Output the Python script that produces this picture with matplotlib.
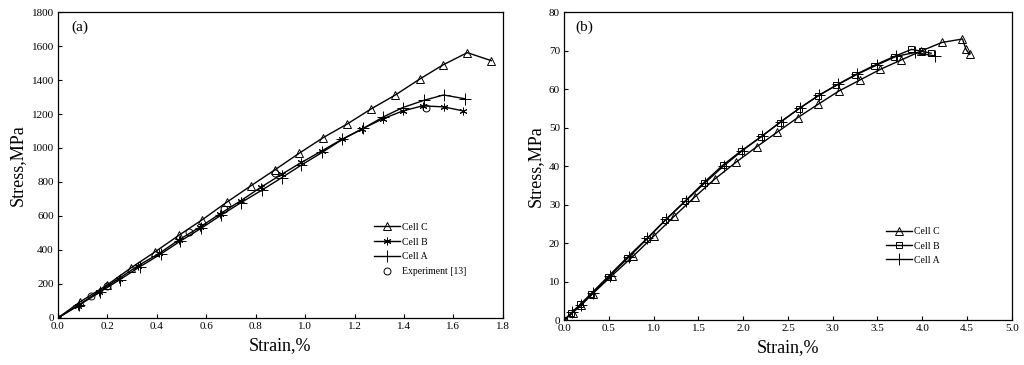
import numpy as np
from matplotlib import pyplot as plt

# panel (a) data
a_c_x = [0, 0.09, 0.2, 0.295, 0.392, 0.489, 0.584, 0.682, 0.78, 0.877, 0.976, 1.073, 1.171, 1.267, 1.365, 1.464, 1.559, 1.656, 1.753]
a_c_y = [0, 95, 195, 294, 388, 486, 578, 680, 777, 871, 969, 1061, 1142, 1230, 1312, 1406, 1490, 1561, 1514]
a_b_x = [0, 0.08, 0.165, 0.245, 0.325, 0.41, 0.49, 0.575, 0.655, 0.74, 0.82, 0.905, 0.985, 1.07, 1.15, 1.23, 1.315, 1.395, 1.475, 1.56, 1.64]
a_b_y = [0, 72, 155, 230, 308, 380, 460, 535, 612, 690, 768, 845, 915, 985, 1052, 1112, 1172, 1218, 1248, 1242, 1218]
a_a_x = [0, 0.085, 0.17, 0.25, 0.33, 0.415, 0.495, 0.58, 0.66, 0.74, 0.825, 0.905, 0.985, 1.07, 1.15, 1.235, 1.315, 1.395, 1.48, 1.56, 1.645]
a_a_y = [0, 75, 152, 225, 300, 375, 452, 528, 605, 678, 752, 825, 900, 975, 1050, 1115, 1182, 1238, 1280, 1312, 1290]
exp_x = [0.135, 0.2, 0.53, 0.67, 0.88, 1.49]
exp_y = [127, 190, 505, 640, 850, 1234]

# panel (b) data
b_c_x = [0, 0.093, 0.19, 0.32, 0.53, 0.77, 1.0, 1.23, 1.46, 1.68, 1.92, 2.15, 2.38, 2.61, 2.84, 3.07, 3.30, 3.53, 3.76, 3.99, 4.22, 4.45, 4.49, 4.53]
b_c_y = [0, 1.9, 3.9, 6.9, 11.5, 16.6, 21.8, 27.0, 32.0, 36.6, 41.0, 45.0, 48.8, 52.6, 56.1, 59.5, 62.3, 65.1, 67.5, 69.9, 72.1, 73.0, 70.3, 69.0]
b_b_x = [0, 0.08, 0.18, 0.3, 0.49, 0.7, 0.92, 1.13, 1.35, 1.56, 1.77, 1.98, 2.2, 2.41, 2.62, 2.83, 3.04, 3.25, 3.46, 3.68, 3.88, 4.0, 4.1]
b_b_y = [0, 1.9, 4.1, 6.9, 11.3, 16.2, 21.1, 26.0, 30.9, 35.7, 40.2, 44.0, 47.6, 51.3, 54.9, 58.1, 61.0, 63.7, 66.1, 68.4, 70.3, 69.8, 69.3]
b_a_x = [0, 0.09, 0.19, 0.32, 0.51, 0.72, 0.93, 1.14, 1.36, 1.57, 1.78, 1.99, 2.21, 2.42, 2.63, 2.85, 3.06, 3.27, 3.49, 3.71, 3.92, 4.14]
b_a_y = [0, 2.0, 4.0, 7.0, 11.5, 16.3, 21.2, 26.2, 31.0, 35.6, 40.0, 44.0, 47.8, 51.5, 55.0, 58.5, 61.2, 63.8, 66.2, 68.5, 69.5, 68.6]

plt.rcParams.update({'font.family': 'serif', 'font.serif': ['Liberation Serif', 'DejaVu Serif'],
                     'xtick.direction': 'in', 'ytick.direction': 'in',
                     'xtick.labelsize': 8, 'ytick.labelsize': 8})

fig = plt.figure(figsize=(10.24, 3.65), dpi=100)
ax1 = fig.add_axes([0.0566, 0.129, 0.4345, 0.838])
ax2 = fig.add_axes([0.551, 0.123, 0.437, 0.844])

mk = dict(color='black', linewidth=1.0, markerfacecolor='none', markeredgecolor='black', markersize=5.5, markeredgewidth=0.7)

ax1.plot(a_c_x, a_c_y, marker='^', label='Cell C', **mk)
ax1.plot(a_b_x, a_b_y, marker=(6, 2, 0), label='Cell B', **mk)
ax1.plot(a_a_x, a_a_y, marker='+', label='Cell A', **dict(mk, markersize=8))
ax1.plot(exp_x, exp_y, 'o', color='black', markerfacecolor='none', markersize=5, markeredgewidth=0.7, label='Experiment [13]')
ax1.set_xlim(0, 1.8)
ax1.set_ylim(0, 1800)
ax1.set_xticks(np.arange(0, 1.81, 0.2))
ax1.set_xticklabels([f"{v:.1f}" for v in np.arange(0, 1.81, 0.2)])
ax1.set_yticks(np.arange(0, 1801, 200))
ax1.set_xlabel('Strain,%', fontsize=13)
ax1.set_ylabel('Stress,MPa', fontsize=13)
ax1.text(0.03, 0.95, '(a)', transform=ax1.transAxes, fontsize=11, va='center')
ax1.legend(loc='upper left', bbox_to_anchor=(0.69, 0.34), frameon=False, fontsize=7,
           handlelength=2.7, handletextpad=0.2, labelspacing=0.6)

ax2.plot(b_c_x, b_c_y, marker='^', label='Cell C', **mk)
ax2.plot(b_b_x, b_b_y, marker='s', label='Cell B', **dict(mk, markersize=5))
ax2.plot(b_a_x, b_a_y, marker='+', label='Cell A', **dict(mk, markersize=8))
ax2.set_xlim(0, 5.0)
ax2.set_ylim(0, 80)
ax2.set_xticks(np.arange(0, 5.01, 0.5))
ax2.set_xticklabels([f"{v:.1f}" for v in np.arange(0, 5.01, 0.5)])
ax2.set_yticks(np.arange(0, 81, 10))
ax2.set_xlabel('Strain,%', fontsize=13)
ax2.set_ylabel('Stress,MPa', fontsize=13)
ax2.text(0.025, 0.95, '(b)', transform=ax2.transAxes, fontsize=11, va='center')
ax2.legend(loc='upper left', bbox_to_anchor=(0.7, 0.33), frameon=False, fontsize=7,
           handlelength=2.7, handletextpad=0.2, labelspacing=0.55)

for ax in (ax1, ax2):
    ax.tick_params(length=3, width=0.8, pad=3)
    for s in ax.spines.values():
        s.set_linewidth(0.9)

plt.savefig('out.png', dpi=100)
